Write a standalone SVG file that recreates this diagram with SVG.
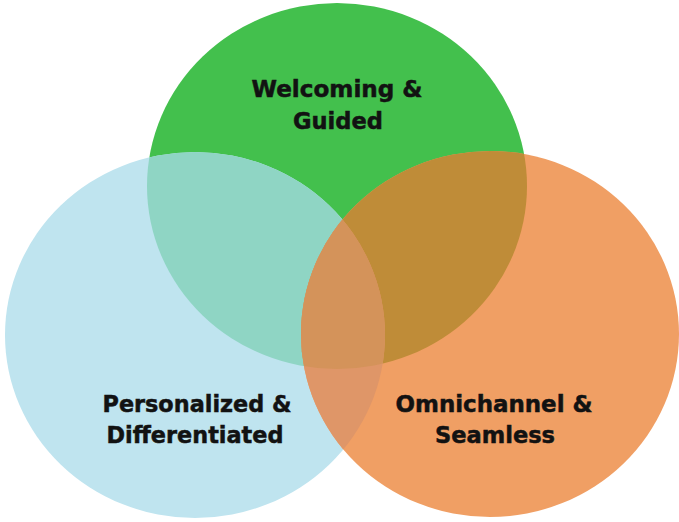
<svg xmlns="http://www.w3.org/2000/svg" width="679" height="522" viewBox="0 0 679 522">
  <style>
    .label { font-family: "DejaVu Sans", "Liberation Sans", sans-serif; font-weight: bold; font-size: 23px; fill: #121212; stroke: #121212; stroke-width: 0.5; text-anchor: middle; }
  </style>
  <defs>
    <ellipse id="shape-green" cx="337" cy="186" rx="190" ry="183"/>
    <ellipse id="shape-blue" cx="195" cy="335" rx="190" ry="183"/>
    <ellipse id="shape-orange" cx="490" cy="334" rx="189" ry="183"/>
    <clipPath id="clip-green"><use href="#shape-green"/></clipPath>
    <clipPath id="clip-blue"><use href="#shape-blue"/></clipPath>
  </defs>
  <rect width="679" height="522" fill="#ffffff"/>

  <!-- base circles -->
  <g id="welcoming">
    <use href="#shape-green" fill="#43c04d"/>
  </g>
  <g id="personalized">
    <use href="#shape-blue" fill="#bfe4ef"/>
  </g>
  <g id="omnichannel">
    <use href="#shape-orange" fill="#f09f64"/>
  </g>

  <!-- overlap lenses -->
  <g id="overlaps">
    <use href="#shape-blue" fill="#8fd5c4" clip-path="url(#clip-green)"/>
    <use href="#shape-orange" fill="#bf8c38" clip-path="url(#clip-green)"/>
    <use href="#shape-orange" fill="#df9668" clip-path="url(#clip-blue)"/>
    <g clip-path="url(#clip-blue)">
      <use href="#shape-orange" fill="#d4935a" clip-path="url(#clip-green)"/>
    </g>
  </g>

  <!-- labels -->
  <g id="labels">
    <text class="label" x="337" y="97" textLength="171" lengthAdjust="spacingAndGlyphs">Welcoming &amp;</text>
    <text class="label" x="338" y="129" textLength="90" lengthAdjust="spacingAndGlyphs">Guided</text>
    <text class="label" x="197" y="412" textLength="189" lengthAdjust="spacingAndGlyphs">Personalized &amp;</text>
    <text class="label" x="195" y="443" textLength="177" lengthAdjust="spacingAndGlyphs">Differentiated</text>
    <text class="label" x="494" y="412" textLength="197" lengthAdjust="spacingAndGlyphs">Omnichannel &amp;</text>
    <text class="label" x="495" y="443" textLength="120" lengthAdjust="spacingAndGlyphs">Seamless</text>
  </g>
</svg>
